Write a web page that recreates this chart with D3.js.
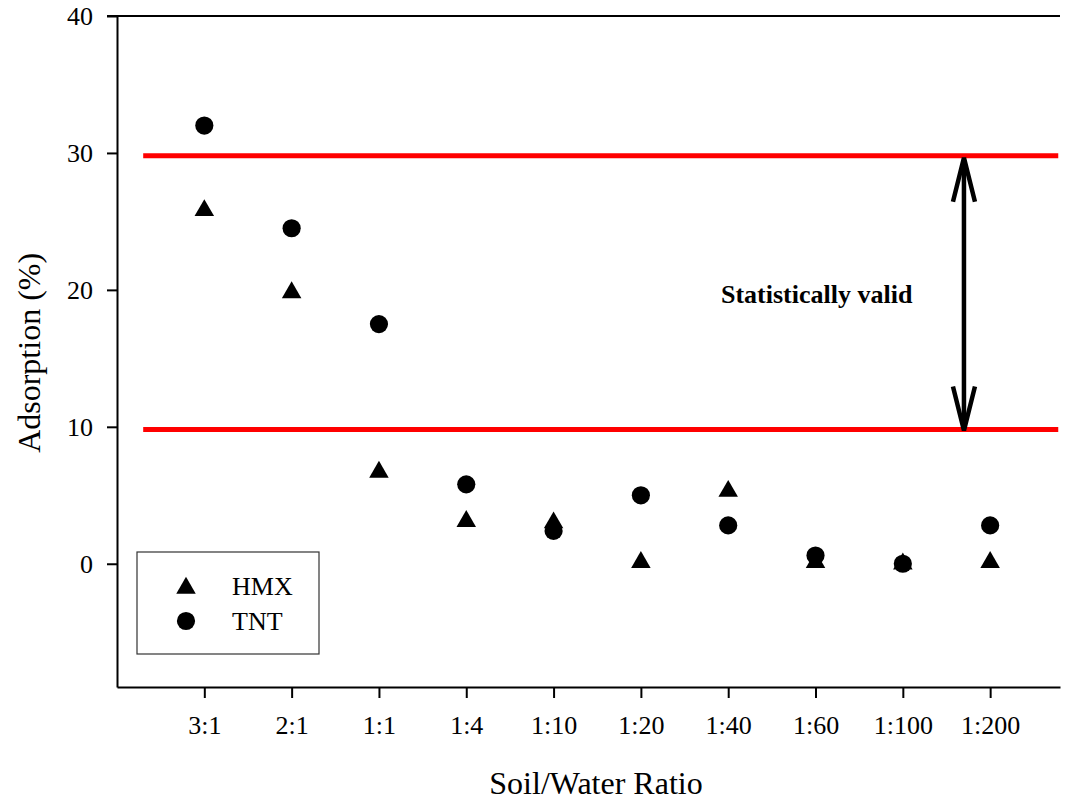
<!DOCTYPE html>
<html>
<head>
<meta charset="utf-8">
<script src="https://cdn.jsdelivr.net/npm/d3@7"></script>
<style>
  body { margin: 0; background: #fff; }
  text { font-family: "Liberation Serif", "Times New Roman", serif; }
</style>
</head>
<body>
<div id="chart"></div>
<script>
// Chart data
const ratios = ["3:1", "2:1", "1:1", "1:4", "1:10", "1:20", "1:40", "1:60", "1:100", "1:200"];
const hmx = [25.8, 19.8, 6.7, 3.1, 3.0, 0.1, 5.3, 0.1, 0.0, 0.1];
const tnt = [32.0, 24.5, 17.5, 5.8, 2.4, 5.0, 2.8, 0.6, 0.0, 2.8];
const yTicks = [0, 10, 20, 30, 40];
const validRange = [9.8, 29.8];

const width = 1066;
const height = 803;
const margin = {left: 117, right: 6, top: 16, bottom: 116};

const svg = d3.select("#chart")
  .append("svg")
  .attr("width", width)
  .attr("height", height);

// Scales: x is a linear index scale so categories sit at whole numbers
const xScale = d3.scaleLinear()
  .domain([-1, 9.8])
  .range([margin.left, width - margin.right]);

const yScale = d3.scaleLinear()
  .domain([-9, 40])
  .range([height - margin.bottom, margin.top]);

// Y axis
const yAxis = svg.append("g")
  .attr("transform", `translate(${margin.left},0)`)
  .call(d3.axisLeft(yScale).tickValues(yTicks).tickSize(10).tickPadding(14).tickSizeOuter(0));
yAxis.selectAll("text").attr("font-size", "26px");

// X axis
const xAxis = svg.append("g")
  .attr("transform", `translate(0,${height - margin.bottom})`)
  .call(d3.axisBottom(xScale).tickValues(d3.range(ratios.length))
    .tickFormat(i => ratios[i]).tickSize(11).tickPadding(18).tickSizeOuter(0));
xAxis.selectAll("text").attr("font-size", "26px");

svg.selectAll(".domain, .tick line").attr("stroke", "#000").attr("stroke-width", 2);

// Top frame line
svg.append("line")
  .attr("x1", margin.left - 10).attr("x2", width - margin.right)
  .attr("y1", yScale(40)).attr("y2", yScale(40))
  .attr("stroke", "#000").attr("stroke-width", 2);

// Axis titles
svg.append("text")
  .attr("x", 596)
  .attr("y", 794)
  .attr("text-anchor", "middle")
  .attr("font-size", "32px")
  .text("Soil/Water Ratio");

svg.append("text")
  .attr("transform", `translate(40, ${yScale(15.4)}) rotate(-90)`)
  .attr("text-anchor", "middle")
  .attr("font-size", "32px")
  .text("Adsorption (%)");

// Red validity limits
svg.selectAll(".limit")
  .data(validRange)
  .enter()
  .append("line")
  .attr("class", "limit")
  .attr("x1", xScale(-0.7)).attr("x2", xScale(9.78))
  .attr("y1", d => yScale(d)).attr("y2", d => yScale(d))
  .attr("stroke", "#ff0000").attr("stroke-width", 5);

// Double-headed arrow
const ax = xScale(8.7);
const yTop = yScale(validRange[1]);
const yBot = yScale(validRange[0]) + 3;
svg.append("line")
  .attr("x1", ax).attr("x2", ax)
  .attr("y1", yTop + 4).attr("y2", yBot - 4)
  .attr("stroke", "#000").attr("stroke-width", 4.5);
svg.append("path")
  .attr("d", `M${ax - 11},${yTop + 46} L${ax},${yTop + 2} L${ax + 11},${yTop + 46}`)
  .attr("fill", "none").attr("stroke", "#000").attr("stroke-width", 4.5);
svg.append("path")
  .attr("d", `M${ax - 11},${yBot - 46} L${ax},${yBot - 2} L${ax + 11},${yBot - 46}`)
  .attr("fill", "none").attr("stroke", "#000").attr("stroke-width", 4.5);

svg.append("text")
  .attr("x", 721)
  .attr("y", 303)
  .attr("font-size", "26px")
  .attr("font-weight", "bold")
  .text("Statistically valid");

// Points
const triangle = d3.symbol().type(d3.symbolTriangle).size(165);
const circle = d3.symbol().type(d3.symbolCircle).size(260);

svg.selectAll(".hmx")
  .data(hmx)
  .enter()
  .append("path")
  .attr("class", "hmx")
  .attr("d", triangle)
  .attr("transform", (d, i) => `translate(${xScale(i)},${yScale(d)})`)
  .attr("fill", "#000");

svg.selectAll(".tnt")
  .data(tnt)
  .enter()
  .append("path")
  .attr("class", "tnt")
  .attr("d", circle)
  .attr("transform", (d, i) => `translate(${xScale(i)},${yScale(d)})`)
  .attr("fill", "#000");

// Legend
const legend = svg.append("g").attr("transform", "translate(137,552)");
legend.append("rect")
  .attr("width", 182).attr("height", 102)
  .attr("fill", "#fff").attr("stroke", "#333").attr("stroke-width", 1.2);
const legendItems = [{name: "HMX", shape: triangle, y: 36, ty: 43}, {name: "TNT", shape: circle, y: 69, ty: 78}];
legendItems.forEach(item => {
  legend.append("path")
    .attr("d", item.shape())
    .attr("transform", `translate(49,${item.y})`)
    .attr("fill", "#000");
  legend.append("text")
    .attr("x", 95).attr("y", item.ty)
    .attr("font-size", "26px")
    .text(item.name);
});
</script>
</body>
</html>
